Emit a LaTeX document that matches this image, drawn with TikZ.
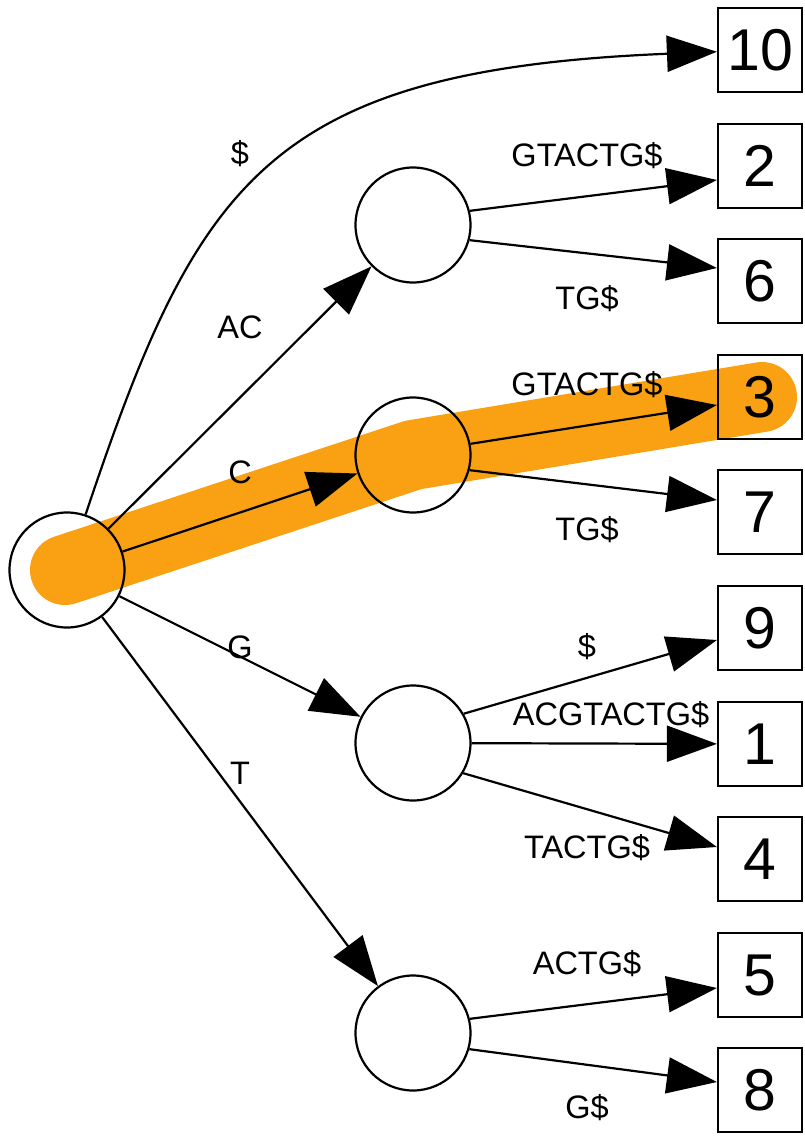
\documentclass[tikz,border=0pt]{standalone}
\usepackage{fontspec}
\setmainfont{Liberation Sans}
\usetikzlibrary{arrows.meta,backgrounds}
\definecolor{hl}{RGB}{250,161,19}
\begin{document}
\begin{tikzpicture}[x=1pt,y=-1pt,
  inner/.style={circle,draw,line width=2.2pt,minimum size=115pt,inner sep=0pt},
  leaf/.style={rectangle,draw,line width=2.2pt,minimum width=84pt,minimum height=84pt,inner sep=0pt,font=\fontsize{59}{60}\selectfont},
  lab/.style={font=\fontsize{32.5}{34}\selectfont,inner sep=0pt},
  edge/.style={line width=2.2pt,-{Triangle[length=50pt,width=36pt]}},
  highlight/.style={hl,line width=70pt,line cap=round,line join=round}
]
\useasboundingbox (0,0) rectangle (805,1137);
% internal nodes
\node[inner] (root) at (67,570) {};
\node[inner] (ac) at (413,225) {};
\node[inner] (c) at (413,455) {};
\node[inner] (g) at (413,743) {};
\node[inner] (t) at (413,1033) {};
% leaves
\node[leaf] (b10) at (760,50) {10};
\node[leaf] (b2) at (760,166) {2};
\node[leaf] (b6) at (760,281) {6};
\node[leaf] (b3) at (760,397) {3};
\node[leaf] (b7) at (760,512) {7};
\node[leaf] (b9) at (760,628) {9};
\node[leaf] (b1) at (760,744) {1};
\node[leaf] (b4) at (760,859) {4};
\node[leaf] (b5) at (760,975) {5};
\node[leaf] (b8) at (760,1090) {8};
% highlight
\begin{scope}[on background layer]
\draw[highlight] ([xshift=-2pt]root.center) -- (c.center) -- ([xshift=2pt]b3.center);
\end{scope}
% edges
\draw[edge] (root) .. controls (197,182) and (267,70) .. (b10);
\draw[edge] (root) -- (ac);
\draw[edge] (root) -- (c);
\draw[edge] (root) -- (g);
\draw[edge] (root) -- (t);
\draw[edge] (ac.14) -- ([yshift=-14pt]b2.west);
\draw[edge] (ac.-15) -- ([yshift=13pt]b6.west);
\draw[edge] (c.11) -- ([yshift=-8pt]b3.west);
\draw[edge] (c.-15) -- ([yshift=12pt]b7.west);
\draw[edge] (g.30) -- ([yshift=-12pt]b9.west);
\draw[edge] (g) -- (b1);
\draw[edge] (g.-31) -- ([yshift=12pt]b4.west);
\draw[edge] (t.14) -- ([yshift=-13pt]b5.west);
\draw[edge] (t.-16) -- ([yshift=8pt]b8.west);
% labels
\node[lab] (l10) at (240,154) {\$};
\node[lab] (lac) at (240,327) {AC};
\node[lab] (lc) at (240,472) {C};
\node[lab] (lg) at (240,647) {G};
\node[lab] (lt) at (240,773) {T};
\node[lab] (l2) at (587,156) {GTACTG\$};
\node[lab] (l6) at (587,299) {TG\$};
\node[lab] (l3) at (587,385) {GTACTG\$};
\node[lab] (l7) at (587,530) {TG\$};
\node[lab] (l9) at (587,647) {\$};
\node[lab] (l1) at (611,715) {ACGTACTG\$};
\node[lab] (l4) at (587,848) {TACTG\$};
\node[lab] (l5) at (587,964) {ACTG\$};
\node[lab] (l8) at (587,1108) {G\$};
\end{tikzpicture}
\end{document}
